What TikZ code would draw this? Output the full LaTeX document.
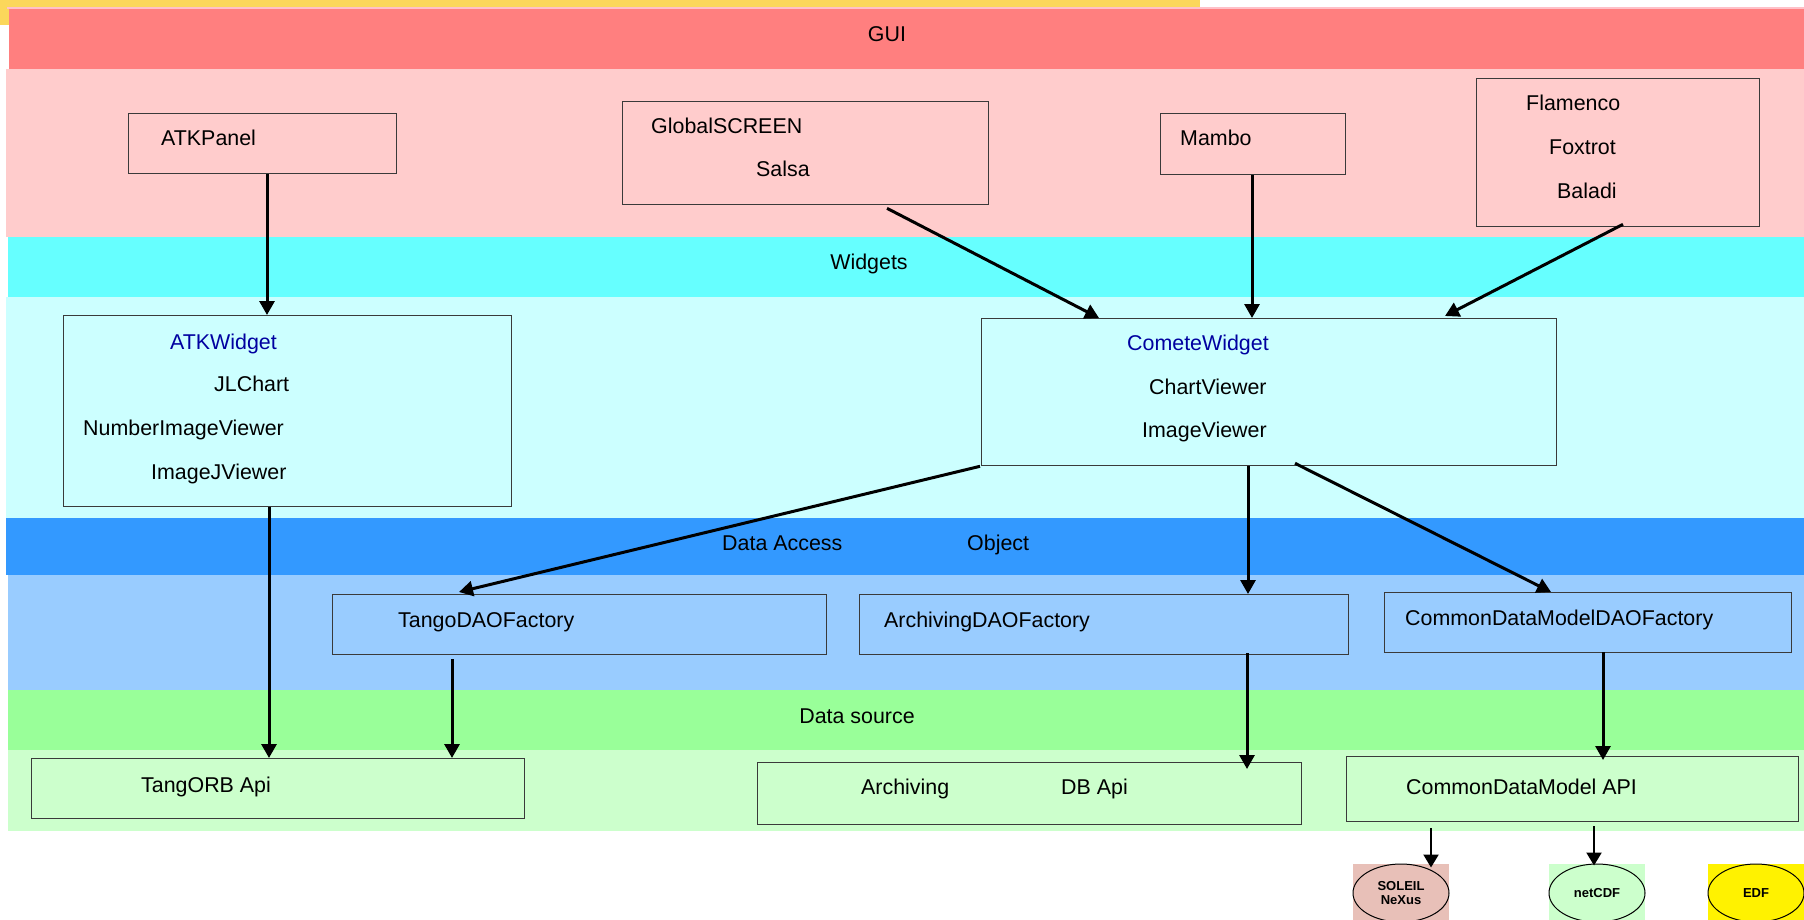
\documentclass[tikz,border=0pt]{standalone}
\usepackage{fontspec}
\setmainfont{Liberation Sans}
\usetikzlibrary{arrows.meta,shapes.geometric,calc}
\definecolor{logoyellow}{HTML}{FBD75B}
\definecolor{guidark}{HTML}{FF7F7F}
\definecolor{guiline}{HTML}{FFC0C8}
\definecolor{guilight}{HTML}{FFCCCC}
\definecolor{wdark}{HTML}{66FFFF}
\definecolor{wlight}{HTML}{CCFFFF}
\definecolor{ddark}{HTML}{3399FF}
\definecolor{dlight}{HTML}{99CCFF}
\definecolor{sdark}{HTML}{99FF99}
\definecolor{slight}{HTML}{CCFFCC}
\definecolor{soleilbg}{HTML}{E8C0B8}
\definecolor{boxgray}{HTML}{3A3A3A}
\definecolor{wblue}{RGB}{0,0,160}
\newcommand\lfont{\fontsize{21.4}{25}\selectfont}
\newcommand\efont{\fontsize{13}{16}\selectfont\bfseries}
\begin{document}
\begin{tikzpicture}[x=1pt,y=-1pt,
  box/.style={draw=boxgray, line width=1.3pt, inner sep=0pt, anchor=north west},
  lbl/.style={font=\lfont, anchor=west, inner sep=0pt, text height=15.3pt, text depth=0pt},
  clbl/.style={font=\lfont, anchor=center, inner sep=0pt, text height=15.3pt, text depth=0pt},
  arr/.style={line width=3pt, -{Triangle[length=14pt,width=15pt]}},
  sarr/.style={line width=2.2pt, -{Triangle[length=13pt,width=15pt]}},
  ell/.style={ellipse, draw=black, line width=1pt, minimum width=96pt, minimum height=58pt, inner sep=0pt, font=\efont, align=center}]
\useasboundingbox (0,0) rectangle (1804,920);
\clip (0,0) rectangle (1804,920);
\fill[white] (0,0) rectangle (1804,920);
% faint logo remains at the top
\fill[logoyellow] (0,0) rectangle (1200,9);
\fill[logoyellow] (0,0) rectangle (9,25);
% bands
\fill[guiline] (7,7) rectangle (1804,9);
\fill[guidark] (9,9) rectangle (1804,69);
\fill[guilight] (6,69) rectangle (1804,237);
\fill[wdark] (8,237) rectangle (1804,297);
\fill[wlight] (6,297) rectangle (1804,518);
\fill[ddark] (6,518) rectangle (1804,575);
\fill[dlight] (8,575) rectangle (1804,690);
\fill[sdark] (8,690) rectangle (1804,750);
\fill[slight] (8,750) rectangle (1804,831);
% band labels
\node[clbl] (tgui) at (887,34) {GUI};
\node[clbl] (twid) at (869,262) {Widgets};
\node[lbl] (tda) at (722,543) {Data Access};
\node[lbl] (tobj) at (967,543) {Object};
\node[clbl] (tds) at (857,716) {Data source};
% GUI boxes
\node[box, minimum width=268pt, minimum height=60pt] (atkpanel) at (128,113) {};
\node[lbl] (tatkpanel) at (161,138) {ATKPanel};
\node[box, minimum width=366pt, minimum height=103pt] (gs) at (622,101) {};
\node[lbl] (tgs) at (651,126) {GlobalSCREEN};
\node[lbl] (tsalsa) at (756,169) {Salsa};
\node[box, minimum width=185pt, minimum height=61pt] (mambo) at (1160,113) {};
\node[lbl] (tmambo) at (1180,138) {Mambo};
\node[box, minimum width=283pt, minimum height=148pt] (flam) at (1476,78) {};
\node[lbl] (tflam) at (1526,103) {Flamenco};
\node[lbl] (tfox) at (1549,147) {Foxtrot};
\node[lbl] (tbal) at (1557,191) {Baladi};
% widget boxes
\node[box, minimum width=448pt, minimum height=191pt] (atkw) at (63,315) {};
\node[lbl, text=wblue] (tatkw) at (170,342) {ATKWidget};
\node[lbl] (tjl) at (214,384) {JLChart};
\node[lbl] (tniv) at (83,428) {NumberImageViewer};
\node[lbl] (tijv) at (151,472) {ImageJViewer};
\node[box, minimum width=575pt, minimum height=147pt] (comete) at (981,318) {};
\node[lbl, text=wblue] (tcw) at (1127,343) {CometeWidget};
\node[lbl] (tcv) at (1149,387) {ChartViewer};
\node[lbl] (tiv) at (1142,430) {ImageViewer};
% DAO boxes
\node[box, minimum width=494pt, minimum height=60pt] (tango) at (332,594) {};
\node[lbl] (ttango) at (398,620) {TangoDAOFactory};
\node[box, minimum width=489pt, minimum height=60pt] (archdao) at (859,594) {};
\node[lbl] (tarchdao) at (884,620) {ArchivingDAOFactory};
\node[box, minimum width=407pt, minimum height=60pt] (cdmdao) at (1384,592) {};
\node[lbl] (tcdmdao) at (1405,618) {CommonDataModelDAOFactory};
% source boxes
\node[box, minimum width=493pt, minimum height=60pt] (tangorb) at (31,758) {};
\node[lbl] (ttangorb) at (141,785) {TangORB Api};
\node[box, minimum width=544pt, minimum height=62pt] (archapi) at (757,762) {};
\node[lbl] (tarch) at (861,787) {Archiving};
\node[lbl] (tdbapi) at (1061,787) {DB Api};
\node[box, minimum width=452pt, minimum height=65pt] (cdmapi) at (1346,756) {};
\node[lbl] (tcdmapi) at (1406,787) {CommonDataModel API};
% formats
\fill[soleilbg] (1353,864) rectangle (1449,920);
\fill[slight] (1549,864) rectangle (1645,920);
\fill[yellow] (1708,864) rectangle (1804,920);
\node[ell, fill=soleilbg] (soleil) at (1401,893) {SOLEIL\\[-2pt]NeXus};
\node[ell, fill=slight] (netcdf) at (1597,893) {netCDF};
\node[ell, fill=yellow] (edf) at (1756,893) {EDF};
% arrows
\draw[arr] ($(atkpanel.south west)+(139,0)$) -- ($(atkw.north west)+(204,0)$);
\draw[arr] ($(gs.south west)+(265,3)$) -- ($(comete.north west)+(118,0)$);
\draw[arr] ($(mambo.south west)+(92,0)$) -- ($(comete.north west)+(271,0)$);
\draw[arr] ($(flam.south west)+(147,-3)$) -- ($(comete.north west)+(464,-2)$);
\draw[arr] ($(comete.south west)+(-1,0)$) -- ($(tango.north west)+(127,-2)$);
\draw[arr] ($(comete.south west)+(267,0)$) -- ($(archdao.north west)+(389,0)$);
\draw[arr] ($(comete.south west)+(314,-3)$) -- ($(cdmdao.north west)+(167,0)$);
\draw[arr] ($(atkw.south west)+(206,0)$) -- ($(tangorb.north west)+(238,0)$);
\draw[arr] ($(tango.south west)+(120,4)$) -- ($(tangorb.north west)+(421,0)$);
\draw[arr] ($(archdao.south west)+(388,-2)$) -- ($(archapi.north west)+(490,7)$);
\draw[arr] ($(cdmdao.south west)+(219,-1)$) -- ($(cdmapi.north west)+(257,4)$);
\draw[sarr] ($(cdmapi.south west)+(85,6)$) -- ($(soleil.north)+(30,4)$);
\draw[sarr] ($(cdmapi.south west)+(248,4)$) -- ($(netcdf.north)+(-3,2)$);
\end{tikzpicture}
\end{document}
